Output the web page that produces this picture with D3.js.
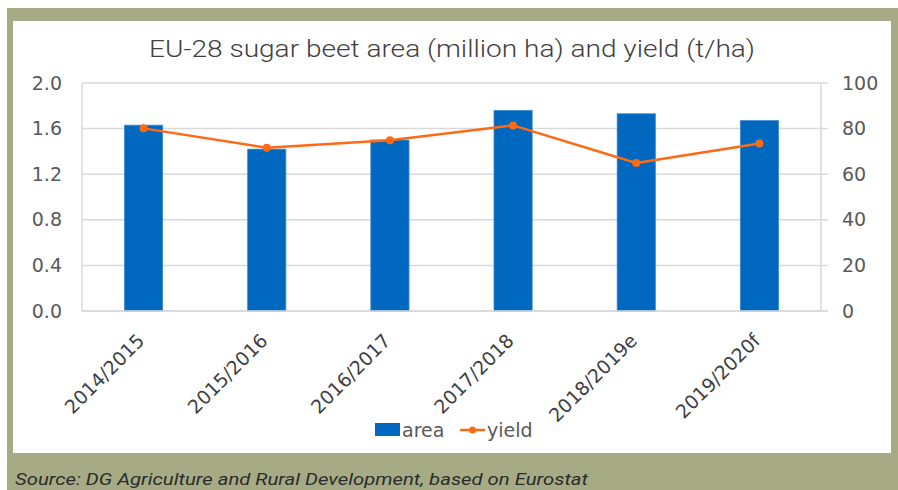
<!DOCTYPE html>
<html><head><meta charset="utf-8">
<script src="https://cdn.jsdelivr.net/npm/d3@7"></script>
<style>
html,body{margin:0;padding:0;background:#fff;}
svg{display:block;}
</style></head>
<body>
<svg id="chart" width="898" height="490"></svg>
<script>
const categories = ["2014/2015","2015/2016","2016/2017","2017/2018","2018/2019e","2019/2020f"];
const areaValues = [1.63, 1.42, 1.50, 1.76, 1.73, 1.67];
const yieldValues = [80.1, 71.6, 74.9, 81.4, 64.9, 73.5];
const leftTicks = [0, 0.4, 0.8, 1.2, 1.6, 2.0];
const rightTicks = [0, 20, 40, 60, 80, 100];
const titleText = "EU-28 sugar beet area (million ha) and yield (t/ha)";
const sourceText = "Source: DG Agriculture and Rural Development, based on Eurostat";
const legendLabels = ["area", "yield"];

const svg = d3.select("#chart");
const olive = "#a6ab86";
const blue = "#0068be";
const orange = "#fe6a13";
const grid = "#d9d9d9";
const tickColor = "#595959";
const tickFont = "DejaVu Sans, Verdana, sans-serif";
const fs = 19;

// frame
svg.append("rect").attr("x",7).attr("y",8).attr("width",891).attr("height",482).attr("fill",olive);
svg.append("rect").attr("x",13).attr("y",21).attr("width",878).attr("height",432).attr("fill","#fff");

const plot = {left:82, right:821, top:83, bottom:311};
const x = d3.scaleBand().domain(categories).range([plot.left, plot.right]).paddingInner(0.69).paddingOuter(0.345);
const yL = d3.scaleLinear().domain([0,2]).range([plot.bottom, plot.top]);
const yR = d3.scaleLinear().domain([0,100]).range([plot.bottom, plot.top]);

// title
svg.append("text").attr("x",452).attr("y",57).attr("text-anchor","middle")
  .attr("font-family","Roboto, sans-serif").attr("font-weight",300).attr("font-size",23).attr("fill","#404040")
  .attr("textLength",606).attr("lengthAdjust","spacingAndGlyphs")
  .text(titleText);

// gridlines
svg.append("g").selectAll("line").data(leftTicks).join("line")
  .attr("x1",plot.left).attr("x2",plot.right+7)
  .attr("y1",d=>yL(d)).attr("y2",d=>yL(d))
  .attr("stroke",grid).attr("stroke-width",1.5);
// vertical axis lines
[plot.left, plot.right].forEach(xx=>{
  svg.append("line").attr("x1",xx).attr("x2",xx).attr("y1",plot.top).attr("y2",plot.bottom)
    .attr("stroke",grid).attr("stroke-width",1.5);
});

// left axis
const leftAxis = d3.axisLeft(yL).tickValues(leftTicks).tickFormat(d3.format(".1f")).tickSize(0).tickPadding(20);
const gL = svg.append("g").attr("transform",`translate(${plot.left},0)`).call(leftAxis);
gL.select(".domain").remove();
gL.selectAll("text").attr("font-family",tickFont).attr("font-size",fs).attr("fill",tickColor);

// right axis
const rightAxis = d3.axisRight(yR).tickValues(rightTicks).tickFormat(d3.format("d")).tickSize(0).tickPadding(21);
const gR = svg.append("g").attr("transform",`translate(${plot.right},0)`).call(rightAxis);
gR.select(".domain").remove();
gR.selectAll("text").attr("font-family",tickFont).attr("font-size",fs).attr("fill",tickColor);

// bars
svg.append("g").selectAll("rect").data(areaValues).join("rect")
  .attr("x",(d,i)=>x(categories[i])).attr("width",x.bandwidth())
  .attr("y",d=>yL(d)).attr("height",d=>yL(0)-yL(d))
  .attr("fill",blue).attr("stroke","#3a8ad0").attr("stroke-width",0.8);

// bottom axis line
svg.append("line").attr("x1",plot.left).attr("x2",plot.right+7).attr("y1",plot.bottom).attr("y2",plot.bottom)
  .attr("stroke",grid).attr("stroke-width",1.5);

// x axis labels
const bottomAxis = d3.axisBottom(x).tickSize(0).tickPadding(0);
const gB = svg.append("g").attr("transform",`translate(0,${plot.bottom})`).call(bottomAxis);
gB.select(".domain").remove();
gB.selectAll("text")
  .attr("font-family",tickFont).attr("font-size",fs).attr("fill","#404040")
  .attr("text-anchor","end").attr("dy",null).attr("y",null)
  .attr("transform","translate(2,31) rotate(-45)");

// yield line
const cx = i => x(categories[i]) + x.bandwidth()/2;
const line = d3.line().x((d,i)=>cx(i)).y(d=>yR(d));
svg.append("path").datum(yieldValues).attr("d",line).attr("fill","none")
  .attr("stroke",orange).attr("stroke-width",2.5).attr("stroke-linejoin","round");
svg.append("g").selectAll("circle").data(yieldValues).join("circle")
  .attr("cx",(d,i)=>cx(i)).attr("cy",d=>yR(d)).attr("r",4).attr("fill",orange);

// legend
const lg = svg.append("g");
lg.append("rect").attr("x",375).attr("y",423).attr("width",25).attr("height",13).attr("fill",blue);
lg.append("text").attr("x",402).attr("y",437).attr("font-family",tickFont).attr("font-size",fs).attr("fill",tickColor).text(legendLabels[0]);
lg.append("line").attr("x1",460).attr("x2",485).attr("y1",430).attr("y2",430).attr("stroke",orange).attr("stroke-width",2.5);
lg.append("circle").attr("cx",472.5).attr("cy",430).attr("r",3.5).attr("fill",orange);
lg.append("text").attr("x",487).attr("y",437).attr("font-family",tickFont).attr("font-size",fs).attr("fill",tickColor).text(legendLabels[1]);

// source
svg.append("text").attr("x",15).attr("y",485)
  .attr("font-family","Roboto, sans-serif").attr("font-style","italic").attr("font-size",17).attr("fill","#2b2b2b")
  .attr("textLength",573).attr("lengthAdjust","spacingAndGlyphs")
  .text(sourceText);
</script>
</body></html>
